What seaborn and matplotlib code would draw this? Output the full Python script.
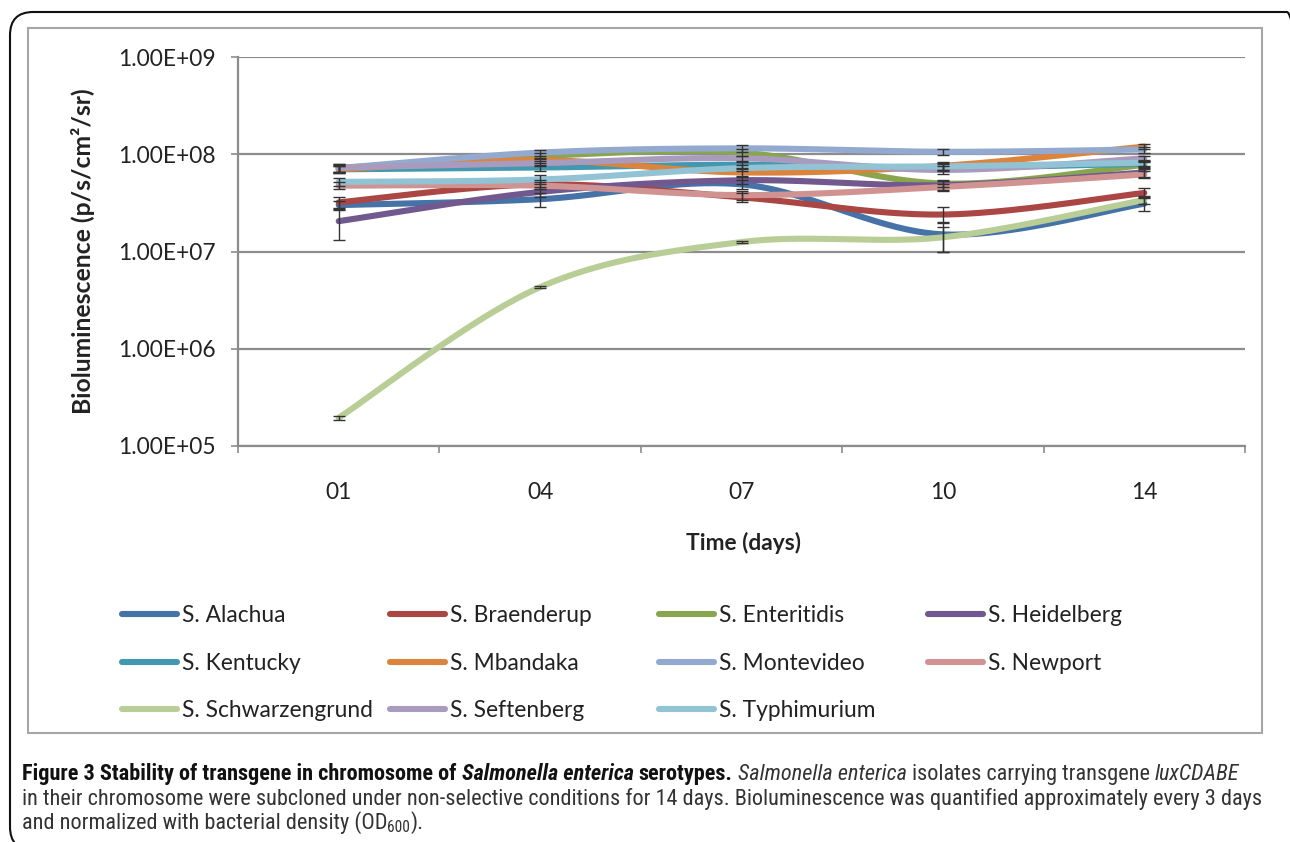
import numpy as np
import pandas as pd
import matplotlib
matplotlib.use("Agg")
import matplotlib.pyplot as plt
from matplotlib import font_manager
from matplotlib.patches import FancyBboxPatch, Rectangle
from matplotlib.lines import Line2D
import seaborn as sns

# ---------------- data (values in p/s/cm2/sr) ----------------
days = ["01", "04", "07", "10", "14"]
serotypes = ["S. Alachua", "S. Braenderup", "S. Enteritidis", "S. Heidelberg",
             "S. Kentucky", "S. Mbandaka", "S. Montevideo", "S. Newport",
             "S. Schwarzengrund", "S. Seftenberg", "S. Typhimurium"]
colors = ["#4572A7", "#AA4643", "#89A54E", "#71588F", "#4198AF", "#DB843D",
          "#93A9CF", "#D19392", "#B9CD96", "#A99BBD", "#91C3D5"]

alachua = [3.0e7, 3.45e7, 4.9e7, 1.5e7, 3.1e7]
braenderup = [3.2e7, 4.9e7, 3.6e7, 2.4e7, 4.0e7]
enteritidis = [7.2e7, 9.6e7, 1.04e8, 5.0e7, 7.8e7]
heidelberg = [2.05e7, 4.1e7, 5.4e7, 4.8e7, 6.5e7]
kentucky = [7.0e7, 7.3e7, 7.8e7, 7.3e7, 8.0e7]
mbandaka = [7.0e7, 8.7e7, 6.5e7, 7.6e7, 1.2e8]
montevideo = [7.2e7, 1.04e8, 1.15e8, 1.06e8, 1.12e8]
newport = [4.75e7, 4.75e7, 3.8e7, 4.6e7, 6.2e7]
schwarzengrund = [1.95e5, 4.3e6, 1.25e7, 1.4e7, 3.4e7]
seftenberg = [7.3e7, 8.1e7, 9.1e7, 6.9e7, 9.1e7]
typhimurium = [5.2e7, 5.5e7, 7.2e7, 7.5e7, 8.2e7]

err_alachua = [3e6, 5.5e6, 5e6, 5e6, 5e6]
err_braenderup = [4.5e6, 5e6, 4e6, 4.5e6, 4.5e6]
err_enteritidis = [6e6, 6e6, 8e6, 4e6, 6e6]
err_heidelberg = [7.5e6, 5e6, 5e6, 5e6, 6e6]
err_kentucky = [6e6, 5e6, 6e6, 6e6, 6e6]
err_mbandaka = [6e6, 5e6, 5e6, 7e6, 8e6]
err_montevideo = [7e6, 7e6, 9e6, 8e6, 8e6]
err_newport = [4e6, 4e6, 4e6, 4e6, 5e6]
err_schwarzengrund = [1e4, 1e5, 3e5, 4e6, 3e6]
err_seftenberg = [7e6, 5e6, 6e6, 6e6, 6e6]
err_typhimurium = [5e6, 6e6, 5e6, 6e6, 6e6]

values = [alachua, braenderup, enteritidis, heidelberg, kentucky, mbandaka,
          montevideo, newport, schwarzengrund, seftenberg, typhimurium]
errors = [err_alachua, err_braenderup, err_enteritidis, err_heidelberg,
          err_kentucky, err_mbandaka, err_montevideo, err_newport,
          err_schwarzengrund, err_seftenberg, err_typhimurium]

ytick_vals = [1e5, 1e6, 1e7, 1e8, 1e9]
ytick_labels = ["1.00E+05", "1.00E+06", "1.00E+07", "1.00E+08", "1.00E+09"]

# ---------------- style ----------------
sns.set_theme(style="white")
avail = {f.name for f in font_manager.fontManager.ttflist}
main_font = "Lato" if "Lato" in avail else "DejaVu Sans"

# caption fonts: condensed if possible
if "Liberation Sans Narrow" in avail:
    cap_reg = (["Liberation Sans Narrow"], "normal")
    cap_bold = (["Liberation Sans Narrow"], "bold")
elif "Roboto Condensed" in avail:
    cap_reg = (["Roboto Condensed"], "normal")
    cap_bold = (["Roboto Condensed"], "bold")
elif "Open Sans Condensed Light" in avail and "Open Sans Condensed" in avail:
    cap_reg = (["Open Sans Condensed Light"], "light")
    cap_bold = (["Open Sans Condensed"], "bold")
else:
    cap_reg = (["Roboto" if "Roboto" in avail else main_font], "normal")
    cap_bold = (["Roboto" if "Roboto" in avail else main_font], "bold")

plt.rcParams["font.family"] = [main_font, "DejaVu Sans"]

W, H = 1290, 842
fig = plt.figure(figsize=(W / 100, H / 100), dpi=100)
fig.patch.set_facecolor("white")


def px(x0, y0, x1, y1):
    return [x0 / W, 1 - y1 / H, (x1 - x0) / W, (y1 - y0) / H]


ax = fig.add_axes(px(238, 57, 1245, 446))


# Excel-like smoothing (Catmull-Rom Bezier) in (index, log10) space
def smooth(vals, n=60):
    xs = np.arange(len(vals), dtype=float)
    ys = np.log10(np.asarray(vals, dtype=float))
    out_x, out_y = [], []
    last = len(xs) - 1
    for i in range(last):
        p0 = np.array([xs[max(i - 1, 0)], ys[max(i - 1, 0)]])
        p1 = np.array([xs[i], ys[i]])
        p2 = np.array([xs[i + 1], ys[i + 1]])
        p3 = np.array([xs[min(i + 2, last)], ys[min(i + 2, last)]])
        c1 = p1 + (p2 - p0) / 6.0
        c2 = p2 - (p3 - p1) / 6.0
        t = np.linspace(0, 1, n, endpoint=(i == last - 1))[:, None]
        b = ((1 - t) ** 3) * p1 + 3 * ((1 - t) ** 2) * t * c1 \
            + 3 * (1 - t) * t ** 2 * c2 + t ** 3 * p2
        out_x.append(b[:, 0])
        out_y.append(b[:, 1])
    return np.concatenate(out_x), 10 ** np.concatenate(out_y)


rows = []
for name, vals in zip(serotypes, values):
    sx, sy = smooth(vals)
    for a, b in zip(sx, sy):
        rows.append({"x": a, "y": b, "serotype": name})
curve_df = pd.DataFrame(rows)

sns.lineplot(data=curve_df, x="x", y="y", hue="serotype", hue_order=serotypes,
             palette=colors, linewidth=4.4, ax=ax, legend=False, sort=False,
             estimator=None, solid_capstyle="round", zorder=3)

xpos = np.arange(len(days))
for vals, errs in zip(values, errors):
    ax.errorbar(xpos, vals, yerr=errs, fmt="none", ecolor="#333333",
                elinewidth=1.0, capsize=4.5, capthick=1.0, zorder=4)

ax.set_yscale("log")
ax.set_ylim(1e5, 1e9)
ax.set_xlim(-0.5, len(days) - 0.5)
ax.set_yticks(ytick_vals)
ax.set_yticklabels(ytick_labels)
ax.yaxis.set_minor_locator(matplotlib.ticker.NullLocator())
ax.set_xticks(xpos)
ax.set_xticklabels(days)
ax.set_xticks(np.arange(-0.5, len(days)), minor=True)

grid_c = "#8c8c8c"
ax.yaxis.grid(True, color=grid_c, linewidth=1.6)
ax.set_axisbelow(True)
for s in ["top", "right"]:
    ax.spines[s].set_visible(False)
for s in ["left", "bottom"]:
    ax.spines[s].set_color(grid_c)
    ax.spines[s].set_linewidth(1.6)

ax.tick_params(axis="y", which="major", direction="out", length=5, width=1.2,
               color=grid_c, left=True, pad=11, labelsize=16.4, labelcolor="#222222")
ax.tick_params(axis="x", which="major", length=0, pad=26, labelsize=16.4,
               labelcolor="#222222")
ax.tick_params(axis="x", which="minor", direction="out", length=5, width=1.2,
               color=grid_c, bottom=True)

ax.set_ylabel("Bioluminescence (p/s/cm²/sr)", fontsize=17.8,
              fontweight="bold", color="#222222")
ax.yaxis.set_label_coords(-0.142, 0.5)
ax.set_xlabel("Time (days)", fontsize=16.4, fontweight="bold", color="#222222")
ax.xaxis.set_label_coords(0.5015, -0.221)

# ---------------- legend: 4 columns, row-wise order ----------------
col_x = [122, 390, 659, 928]
for c in range(4):
    idx = list(range(c, len(serotypes), 4))
    handles = [Line2D([], [], color=colors[i], linewidth=4.4, solid_capstyle="round")
               for i in idx]
    labels = [serotypes[i] for i in idx]
    fig.legend(handles, labels, loc="upper left",
               bbox_to_anchor=(col_x[c] / W, 1 - 605 / H),
               frameon=False, fontsize=16.4, handlelength=2.4,
               handletextpad=0.25, labelspacing=1.17, borderpad=0,
               borderaxespad=0, labelcolor="#222222")

# ---------------- frames ----------------
fig.patches.append(Rectangle((28 / W, 1 - 733 / H), (1262 - 28) / W, (733 - 28) / H,
                             transform=fig.transFigure, fill=False,
                             edgecolor="#a6a6a6", linewidth=1.5))
fig.patches.append(FancyBboxPatch((10 / W, 1 - 850 / H), 1300 / W, 838 / H,
                                  boxstyle="round,pad=0,rounding_size=0.018",
                                  transform=fig.transFigure, fill=False,
                                  edgecolor="#111111", linewidth=1.5,
                                  mutation_aspect=W / H))

# ---------------- caption ----------------
renderer = fig.canvas.get_renderer()


def font_of(weight_key):
    return cap_bold if weight_key == "B" else cap_reg


def measure(text, size, wkey, style):
    fam, wt = font_of(wkey)
    t = fig.text(0, 0, text, fontsize=size, family=fam + ["DejaVu Sans"],
                 fontweight=wt, fontstyle=style)
    w = t.get_window_extent(renderer).width
    t.remove()
    return w


line2 = ("in their chromosome were subcloned under non-selective conditions for 14 days. "
         "Bioluminescence was quantified approximately every 3 days")
base = 13.0
cap_size = base * (1257 - 22) / measure(line2, base, "N", "normal")
space_w = measure("x x", cap_size, "N", "normal") - measure("xx", cap_size, "N", "normal")


def line_parts(x_px, y_px, parts):
    x = x_px
    for text, wkey, style, dy, scale in parts:
        if text == " ":
            x += space_w
            continue
        fam, wt = font_of(wkey)
        col = "#111111" if wkey == "B" else "#333333"
        t = fig.text(x / W, 1 - (y_px + dy) / H, text, fontsize=cap_size * scale,
                     fontweight=wt, fontstyle=style, family=fam + ["DejaVu Sans"],
                     color=col, va="baseline", ha="left")
        x += t.get_window_extent(renderer).width


SP = (" ", "N", "normal", 0, 1)
x0 = 22
line_parts(x0, 780, [
    ("Figure 3 Stability of transgene in chromosome of", "B", "normal", 0, 1), SP,
    ("Salmonella enterica", "B", "italic", 0, 1), SP,
    ("serotypes.", "B", "normal", 0, 1), SP,
    ("Salmonella enterica", "N", "italic", 0, 1), SP,
    ("isolates carrying transgene", "N", "normal", 0, 1), SP,
    ("luxCDABE", "N", "italic", 0, 1),
])
line_parts(x0, 805, [(line2, "N", "normal", 0, 1)])
line_parts(x0, 829, [
    ("and normalized with bacterial density (OD", "N", "normal", 0, 1),
    ("600", "N", "normal", 3, 0.7),
    (").", "N", "normal", 0, 1),
])

fig.savefig("out.png", dpi=100, facecolor="white")
